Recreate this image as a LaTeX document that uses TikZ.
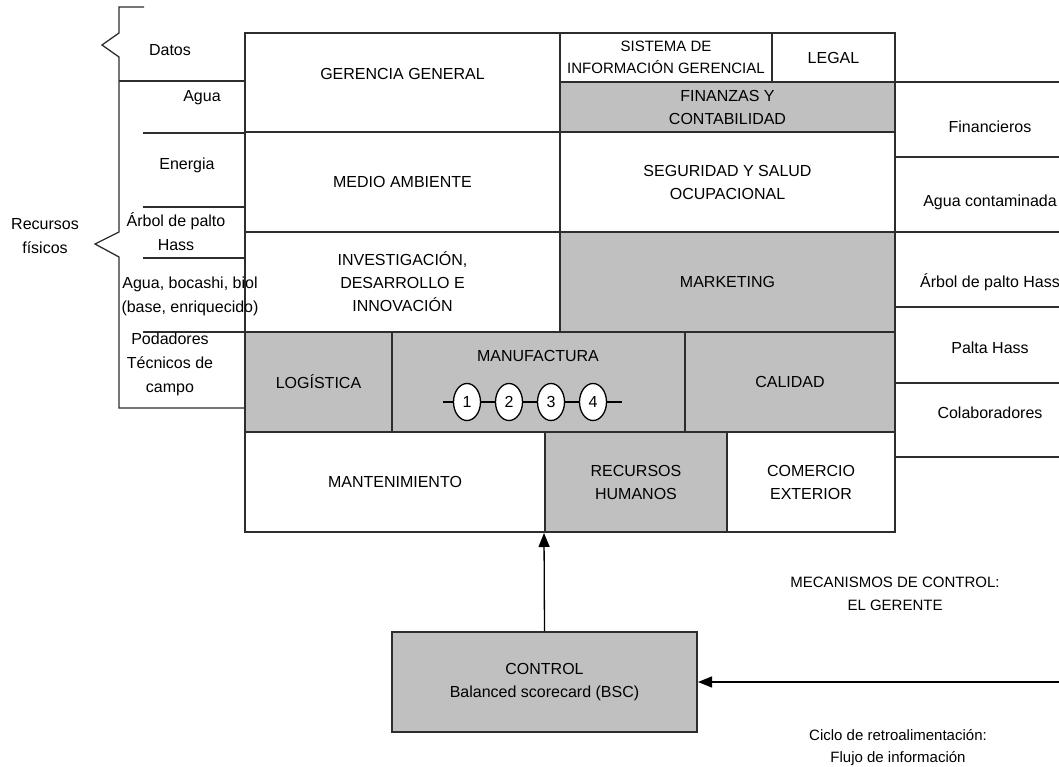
\documentclass[tikz,border=0pt]{standalone}
\usepackage{fontspec}
\setmainfont{Liberation Sans}
\usepackage{tikz}
\usetikzlibrary{arrows.meta,shapes.geometric}
\definecolor{areagray}{RGB}{192,192,192}
\definecolor{linegray}{RGB}{45,45,45}
\tikzset{
    area/.style={
           rectangle,
           draw=linegray, line width=1.6pt,
           fill=white,
           inner sep=0pt,
           align=center,
           font=\fontsize{16}{23}\selectfont,
           },
    shaded/.style={area, fill=areagray, line width=2pt},
    side/.style={draw=linegray, line width=1.3pt},
    sidelabel/.style={align=center, inner sep=0pt, font=\fontsize{16}{24}\selectfont},
    stage/.style={ellipse, draw=black, line width=1.3pt, fill=white,
           minimum width=27pt, minimum height=37pt, inner sep=0pt,
           font=\fontsize{16}{18}\selectfont},
}

\begin{document}
\begin{tikzpicture}[x=1pt,y=-1pt,>={Triangle[length=14pt,width=11pt]}]
	\useasboundingbox (0,0) rectangle (1059,767);

	% resources coming in
	\draw[side] (144,7) -- (119,7) -- (119,33) -- (102,45) -- (119,57) -- (119,232)
		-- (95,244) -- (119,257) -- (119,408) -- (245,408);
	\draw[side] (119,81) -- (245,81);
	\foreach \y in {133,207,258,332}
		\draw[side] (143,\y) -- (245,\y);

	% results going out
	\foreach \y in {82,157,232,307,383,457}
		\draw[side] (895,\y) -- (1059,\y);

	% the company areas
	\node[area,minimum width=315,minimum height=99]  (gerencia)   at (402.5,82.5)  {GERENCIA GENERAL\\[-5pt]\mbox{}};
	\node[area,minimum width=212,minimum height=49,font=\fontsize{15}{22}\selectfont]
		(sistema) at (666,57.5) {SISTEMA DE\\INFORMACIÓN GERENCIAL};
	\node[area,minimum width=123,minimum height=49]  (legal)      at (833.5,57.5)  {LEGAL};
	\node[shaded,minimum width=335,minimum height=50] (finanzas) at (727.5,107)   {FINANZAS Y\\CONTABILIDAD};
	\node[area,minimum width=315,minimum height=100] (medio)      at (402.5,182)   {MEDIO AMBIENTE};
	\node[area,minimum width=335,minimum height=100] (seguridad)  at (727.5,182)   {SEGURIDAD Y SALUD\\OCUPACIONAL};
	\node[area,minimum width=315,minimum height=100] (idi)        at (402.5,282)   {INVESTIGACIÓN,\\DESARROLLO E\\INNOVACIÓN};
	\node[shaded,minimum width=335,minimum height=100] (marketing) at (727.5,282)  {MARKETING};
	\node[shaded,minimum width=147,minimum height=100] (logistica) at (318.5,382)  {LOGÍSTICA};
	\node[shaded,minimum width=293,minimum height=100] (manufactura) at (538.5,382) {};
	\node[shaded,minimum width=210,minimum height=100] (calidad)   at (790,382)     {CALIDAD};
	\node[area,minimum width=300,minimum height=100] (mantenimiento) at (395,482)  {MANTENIMIENTO};
	\node[shaded,minimum width=182,minimum height=100] (rrhh)     at (636,482)     {RECURSOS\\HUMANOS};
	\node[area,minimum width=168,minimum height=100] (comercio)   at (811,482)     {COMERCIO\\EXTERIOR};

	\node[sidelabel] (manuf) at (538,356) {MANUFACTURA};

	\node[sidelabel] (datos)     at (170,50)  {Datos};
	\node[sidelabel] (agua)      at (202,98)  {Agua};
	\node[sidelabel] (energia)   at (187,165) {Energia};
	\node[sidelabel] (arbol)     at (176,232) {Árbol de palto\\Hass};
	\node[sidelabel] (abono)     at (190,296) {Agua, bocashi, biol\\(base, enriquecido)};
	\node[sidelabel] (podadores) at (170,364) {Podadores\\Técnicos de\\campo};
	\node[sidelabel] (recursos)  at (45,236)  {Recursos\\físicos};

	\node[sidelabel] (financieros)   at (990,127) {Financieros};
	\node[sidelabel] (contaminada)   at (990,202) {Agua contaminada};
	\node[sidelabel] (arbolhass)     at (990,282) {Árbol de palto Hass};
	\node[sidelabel] (palta)         at (990,348) {Palta Hass};
	\node[sidelabel] (colaboradores) at (990,413) {Colaboradores};

	% process stages
	\coordinate (pin)  at (443,402);
	\coordinate (pout) at (622,402);
	\foreach \n/\x in {1/467,2/509,3/551,4/593}
		\node[stage] (c\n) at (\x,402) {\n};
	\draw[line width=1.3pt] (pin) -- (c1) -- (c2) -- (c3) -- (c4) -- (pout);

	% control loop
	\node[shaded,minimum width=305,minimum height=100] (control) at (544.5,682)
		{CONTROL\\Balanced scorecard (BSC)};
	\coordinate (feed) at (1059,682);

	\draw[->,line width=1.3pt] (control.north) -- (rrhh.south west);
	\draw[->,line width=1.3pt] (feed) -- (control.east);

	\node[sidelabel,font=\fontsize{15}{23}\selectfont] (mecanismos) at (895,594)
		{MECANISMOS DE CONTROL:\\EL GERENTE};
	\node[sidelabel,font=\fontsize{15}{22}\selectfont] (ciclo) at (898,748)
		{Ciclo de retroalimentación:\\Flujo de información};
\end{tikzpicture}
\end{document}
